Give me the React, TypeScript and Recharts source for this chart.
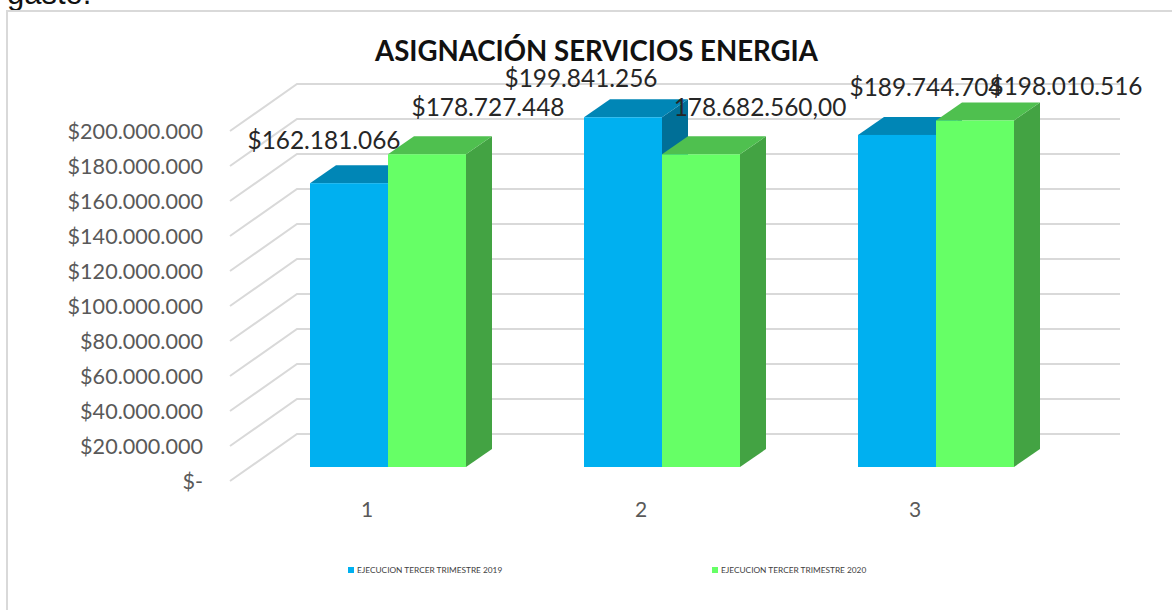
import { Bar, BarChart, CartesianGrid, LabelList, Legend, XAxis, YAxis } from 'recharts';

const categories = ['1', '2', '3'];
const values2019 = [162181066, 199841256, 189744704];
const values2020 = [178727448, 178682560, 198010516];
const labels2019 = ['$162.181.066', '$199.841.256', '$189.744.704'];
const labels2020 = ['$178.727.448', '178.682.560,00', '$198.010.516'];
const yTicks = [0, 20000000, 40000000, 60000000, 80000000, 100000000, 120000000, 140000000, 160000000, 180000000, 200000000];
const yTickLabels = ['$-', '$20.000.000', '$40.000.000', '$60.000.000', '$80.000.000', '$100.000.000', '$120.000.000', '$140.000.000', '$160.000.000', '$180.000.000', '$200.000.000'];

// hand placed labels in the original, offset from the top centre of each bar
const offsets2019 = [[-25, -42], [-42, -38], [29, -47]];
const offsets2020 = [[61, -46], [59, -46], [91, -33]];

const FONT = 'Lato, sans-serif';
const SERIES_2019 = 'EJECUCION TERCER TRIMESTRE 2019';
const SERIES_2020 = 'EJECUCION TERCER TRIMESTRE 2020';

const data = categories.map((c, i) => ({
  name: c,
  [SERIES_2019]: values2019[i],
  [SERIES_2020]: values2020[i],
}));

const DEPTH_X = 26;
const DEPTH_Y = 18;

function box3d(front: string, top: string, side: string) {
  return (props: any) => {
    const { x, y, width, height } = props;
    const r = x + width;
    const b = y + height;
    return (
      <g>
        <polygon points={`${r},${y} ${r + DEPTH_X},${y - DEPTH_Y} ${r + DEPTH_X},${b - DEPTH_Y} ${r},${b}`} fill={side} />
        <polygon points={`${x},${y} ${x + DEPTH_X},${y - DEPTH_Y} ${r + DEPTH_X},${y - DEPTH_Y} ${r},${y}`} fill={top} />
        <rect x={x} y={y} width={width} height={height} fill={front} />
      </g>
    );
  };
}

function gridLine(props: any) {
  const { x1, x2, y1 } = props;
  return (
    <path
      key={y1}
      d={`M${x1 - 21},${y1 + 14} L${x1 + 46},${y1 - 33} L${x2 + 47},${y1 - 33}`}
      fill="none"
      stroke="#d9d9d9"
      strokeWidth={2}
    />
  );
}

function YTick({ x, y, index }: any) {
  return (
    <text x={x - 40} y={y + 22} textAnchor="end" fontFamily={FONT} fontSize={21.6} fill="#595959">
      {yTickLabels[index]}
    </text>
  );
}

function XTick({ x, y, payload }: any) {
  return (
    <text x={x - 21} y={y + 42} textAnchor="middle" fontFamily={FONT} fontSize={21} fill="#595959">
      {payload.value}
    </text>
  );
}

function valueLabel(labels: string[], offsets: number[][]) {
  return (props: any) => {
    const { x, y, width, index } = props;
    return (
      <text
        x={x + width / 2 + offsets[index][0]}
        y={y + offsets[index][1] + 8}
        textAnchor="middle"
        fontFamily={FONT}
        fontSize={24.4}
        fill="#262626"
      >
        {labels[index]}
      </text>
    );
  };
}

function LegendRow({ payload }: any) {
  return (
    <div style={{ position: 'relative', height: 12, fontFamily: FONT, fontSize: 8.3, color: '#404040' }}>
      {(payload || []).map((p: any, i: number) => (
        <div key={p.value} style={{ position: 'absolute', left: i === 0 ? 348 : 712, top: 0, whiteSpace: 'nowrap', lineHeight: '12px' }}>
          <span style={{ display: 'inline-block', width: 6, height: 6, background: p.color, marginRight: 3 }} />
          {p.value}
        </div>
      ))}
    </div>
  );
}

export default function App() {
  return (
    <div style={{ position: 'absolute', left: 0, top: 0, width: 1172, height: 610, overflow: 'hidden', background: '#fff' }}>
      <div style={{ position: 'absolute', left: 7, top: -24, fontFamily: 'Liberation Sans, sans-serif', fontSize: 31, color: '#111' }}>gasto.</div>
      <div style={{ position: 'absolute', left: 6, top: 10, width: 1166, height: 600, borderTop: '2px solid #d9d9d9', borderLeft: '2px solid #d9d9d9', boxSizing: 'border-box' }} />
      <div style={{ position: 'absolute', left: 375, top: 34, fontFamily: FONT, fontWeight: 700, fontSize: 27.6, color: '#111', whiteSpace: 'nowrap' }}>
        ASIGNACIÓN SERVICIOS ENERGIA
      </div>
      <div style={{ position: 'absolute', left: 0, top: 0 }}>
        <BarChart
          width={1172}
          height={610}
          data={data}
          margin={{ top: 117, right: 99, bottom: 88, left: 0 }}
          barSize={78}
          barGap={0}
        >
          <CartesianGrid vertical={false} horizontal={gridLine} />
          <XAxis dataKey="name" axisLine={false} tickLine={false} tick={<XTick />} height={43} />
          <YAxis
            width={251}
            domain={[0, 200000000]}
            ticks={yTicks}
            interval={0}
            axisLine={false}
            tickLine={false}
            tick={<YTick />}
          />
          <Legend
            verticalAlign="bottom"
            height={0}
            content={<LegendRow />}
            wrapperStyle={{ left: 0, top: 564, width: 1172 }}
          />
          <Bar dataKey={SERIES_2019} fill="#00b0f0" shape={box3d('#00b0f0', '#0086b6', '#006f97')} isAnimationActive={false}>
            <LabelList dataKey={SERIES_2019} content={valueLabel(labels2019, offsets2019)} />
          </Bar>
          <Bar dataKey={SERIES_2020} fill="#66ff66" shape={box3d('#66ff66', '#4fc04f', '#43a343')} isAnimationActive={false}>
            <LabelList dataKey={SERIES_2020} content={valueLabel(labels2020, offsets2020)} />
          </Bar>
        </BarChart>
      </div>
    </div>
  );
}
